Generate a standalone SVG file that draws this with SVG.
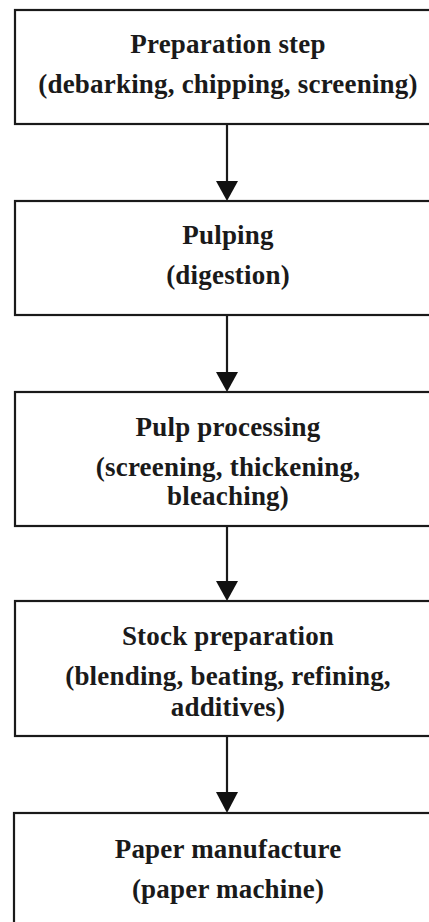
<svg xmlns="http://www.w3.org/2000/svg" width="429" height="922" viewBox="0 0 429 922">
<style>
.box{fill:#fff;stroke:#1a1a1a;stroke-width:2.2}
.t{font-family:"Liberation Serif","Times New Roman",serif;font-weight:bold;font-size:27px;letter-spacing:0.2px;fill:#1a1a1a;text-anchor:middle}
.ln{stroke:#1a1a1a;stroke-width:2.2;fill:none}
.ah{fill:#111}
</style>
<rect width="429" height="922" fill="#fff"/>
<g id="connectors">
<line class="ln" x1="227" y1="124" x2="227" y2="182"/>
<polygon class="ah" points="216,181 238,181 227,201"/>
<line class="ln" x1="227" y1="315" x2="227" y2="373"/>
<polygon class="ah" points="216,372 238,372 227,392"/>
<line class="ln" x1="227" y1="526" x2="227" y2="582"/>
<polygon class="ah" points="216,581 238,581 227,601"/>
<line class="ln" x1="227" y1="736" x2="227" y2="793"/>
<polygon class="ah" points="216,792 238,792 227,813"/>
</g>
<g id="n1">
<rect class="box" x="15" y="10" width="425" height="114"/>
<text class="t" x="228" y="53">Preparation step</text>
<text class="t" x="228" y="93">(debarking, chipping, screening)</text>
</g>
<g id="n2">
<rect class="box" x="15" y="201" width="425" height="114"/>
<text class="t" x="228" y="244">Pulping</text>
<text class="t" x="228" y="284">(digestion)</text>
</g>
<g id="n3">
<rect class="box" x="15" y="392" width="425" height="134"/>
<text class="t" x="228" y="436">Pulp processing</text>
<text class="t" x="228" y="476">(screening, thickening,</text>
<text class="t" x="228" y="505">bleaching)</text>
</g>
<g id="n4">
<rect class="box" x="15" y="601" width="425" height="135"/>
<text class="t" x="228" y="645">Stock preparation</text>
<text class="t" x="228" y="685">(blending, beating, refining,</text>
<text class="t" x="228" y="716">additives)</text>
</g>
<g id="n5">
<rect class="box" x="14" y="813" width="426" height="130"/>
<text class="t" x="228" y="858">Paper manufacture</text>
<text class="t" x="228" y="898">(paper machine)</text>
</g>
</svg>
